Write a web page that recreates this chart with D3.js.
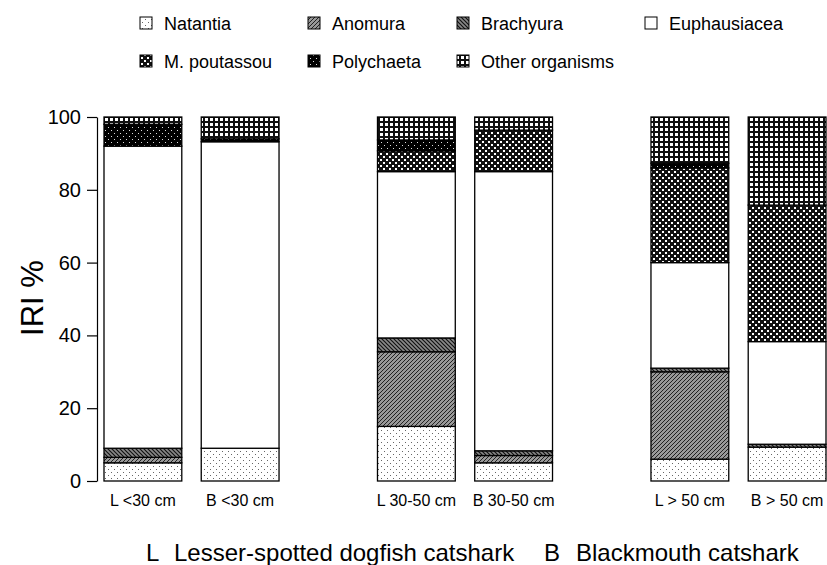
<!DOCTYPE html>
<html>
<head>
<meta charset="utf-8">
<script src="https://cdn.jsdelivr.net/npm/d3@7"></script>
<style>
  body { margin: 0; background: #fff; }
  text { font-family: "Liberation Sans", Arial, sans-serif; }
</style>
</head>
<body>
<div class="chart"></div>
<script>
// bar labels, grouped by length class
var groups = ["<30 cm", "30-50 cm", "> 50 cm"];
var species = ["L", "B"];
var barLabels = ["L <30 cm", "B <30 cm", "L 30-50 cm", "B 30-50 cm", "L > 50 cm", "B > 50 cm"];

// IRI % per prey category, one value per bar
var natantia     = [5, 9, 15, 5, 6, 9.3];
var anomura      = [1.5, 0, 20.5, 2, 24, 0];
var brachyura    = [2.5, 0, 3.8, 1.3, 1, 0.8];
var euphausiacea = [83, 84.2, 45.7, 76.7, 29, 28.2];
var poutassou    = [0, 0, 5.7, 11.4, 26, 37.5];
var polychaeta   = [6, 0.8, 3, 0, 1.3, 0];
var others       = [2, 6, 6.3, 3.6, 12.7, 24.2];

var preyNames = ["Natantia", "Anomura", "Brachyura", "Euphausiacea",
                 "M. poutassou", "Polychaeta", "Other organisms"];
var yTicks = [0, 20, 40, 60, 80, 100];

var svgWidth = 827, svgHeight = 565;
var margin = { top: 117, right: 1, bottom: 84, left: 104 };

var svg = d3.select(".chart").append("svg")
  .attr("width", svgWidth)
  .attr("height", svgHeight);

// patterns for the prey categories
var defs = svg.append("defs");
function pat(id, w, h) {
  return defs.append("pattern").attr("id", id)
    .attr("patternUnits", "userSpaceOnUse")
    .attr("width", w).attr("height", h);
}
var p;
p = pat("p-nat", 6, 6);
p.append("rect").attr("width", 6).attr("height", 6).attr("fill", "#fff");
p.append("rect").attr("x", 1).attr("y", 1).attr("width", 1).attr("height", 1).attr("fill", "#666");
p.append("rect").attr("x", 4).attr("y", 4).attr("width", 1).attr("height", 1).attr("fill", "#666");

p = pat("p-ano", 4, 4);
p.append("rect").attr("width", 4).attr("height", 4).attr("fill", "#999");
p.append("path").attr("d", "M0,4L4,0M-1,1L1,-1M3,5L5,3").attr("stroke", "#222").attr("stroke-width", 1);

p = pat("p-bra", 4, 4);
p.append("rect").attr("width", 4).attr("height", 4).attr("fill", "#888");
p.append("path").attr("d", "M0,0L4,4M-1,3L1,5M3,-1L5,1").attr("stroke", "#111").attr("stroke-width", 1.2);

p = pat("p-eup", 4, 4);
p.append("rect").attr("width", 4).attr("height", 4).attr("fill", "#fff");

p = pat("p-mp", 6, 6);
p.append("rect").attr("width", 6).attr("height", 6).attr("fill", "#111");
p.append("rect").attr("x", 0).attr("y", 0).attr("width", 2).attr("height", 2).attr("fill", "#fff");
p.append("rect").attr("x", 3).attr("y", 3).attr("width", 2).attr("height", 2).attr("fill", "#fff");

p = pat("p-pol", 6, 6);
p.append("rect").attr("width", 6).attr("height", 6).attr("fill", "#000");
p.append("rect").attr("x", 1).attr("y", 1).attr("width", 1).attr("height", 1).attr("fill", "#ddd");
p.append("rect").attr("x", 4).attr("y", 4).attr("width", 1).attr("height", 1).attr("fill", "#ddd");

p = pat("p-oth", 5, 5);
p.append("rect").attr("width", 5).attr("height", 5).attr("fill", "#111");
p.append("rect").attr("x", 1).attr("y", 1).attr("width", 3).attr("height", 3).attr("fill", "#fff");

var fills = ["url(#p-nat)", "url(#p-ano)", "url(#p-bra)", "url(#p-eup)",
             "url(#p-mp)", "url(#p-pol)", "url(#p-oth)"];
var series = [natantia, anomura, brachyura, euphausiacea, poutassou, polychaeta, others];

// table for d3.stack
var table = barLabels.map(function (lab, i) {
  var row = { label: lab, group: groups[Math.floor(i / 2)], sp: species[i % 2] };
  preyNames.forEach(function (n, k) { row[n] = series[k][i]; });
  return row;
});

var width = svgWidth - margin.left - margin.right;
var height = svgHeight - margin.top - margin.bottom;

var x0 = d3.scaleBand().domain(groups).range([0, width]).paddingInner(0.36);
var x1 = d3.scaleBand().domain(species).range([0, x0.bandwidth()]).paddingInner(0.2);
var y = d3.scaleLinear().domain([0, 100]).range([height, 0]);

var chartGroup = svg.append("g")
  .attr("transform", `translate(${margin.left}, ${margin.top})`);

var stacked = d3.stack().keys(preyNames)(table);

chartGroup.selectAll(".layer")
  .data(stacked)
  .enter()
  .append("g")
  .attr("class", "layer")
  .attr("fill", (d, i) => fills[i])
  .selectAll("rect")
  .data(d => d.filter(s => s[1] - s[0] > 0))
  .enter()
  .append("rect")
  .attr("x", d => x0(d.data.group) + x1(d.data.sp))
  .attr("width", x1.bandwidth())
  .attr("y", d => y(d[1]))
  .attr("height", d => y(d[0]) - y(d[1]))
  .attr("stroke", "#000")
  .attr("stroke-width", 1.3);

// y axis
var leftAxis = d3.axisLeft(y).tickValues(yTicks).tickSize(10).tickSizeOuter(0).tickPadding(6);
var yAxis = chartGroup.append("g")
  .attr("transform", "translate(-7,0)")
  .call(leftAxis);
yAxis.select(".domain").attr("stroke", "#000").attr("stroke-width", 1.2);
yAxis.selectAll(".tick line").attr("stroke", "#000").attr("stroke-width", 1.2);
yAxis.selectAll("text").attr("font-size", 20).attr("fill", "#000")
  .style("font-family", "'Liberation Sans', Arial, sans-serif");

chartGroup.append("text")
  .attr("text-anchor", "middle")
  .attr("transform", `translate(${-61}, ${height / 2 - 1}) rotate(-90)`)
  .attr("font-size", 31)
  .text("IRI %");

// bar labels
chartGroup.selectAll(".barlabel")
  .data(table)
  .enter()
  .append("text")
  .attr("class", "barlabel")
  .attr("x", d => x0(d.group) + x1(d.sp) + x1.bandwidth() / 2)
  .attr("y", height + 25)
  .attr("text-anchor", "middle")
  .attr("font-size", 16)
  .text(d => d.label);

// top legend
var legCols = [140, 308, 457, 645];
var legend = svg.append("g");
preyNames.forEach(function (n, k) {
  var col = k < 4 ? k : k - 4;
  var row = k < 4 ? 0 : 1;
  var lx = legCols[col], ly = 23 + row * 38;
  legend.append("rect")
    .attr("x", lx).attr("y", ly - 6)
    .attr("width", 12).attr("height", 12)
    .attr("fill", fills[k]).attr("stroke", "#000").attr("stroke-width", 1);
  legend.append("text")
    .attr("x", lx + 24).attr("y", ly + 7)
    .attr("font-size", 18)
    .text(n);
});

// bottom species key
var keyRow = svg.append("g").attr("font-size", 24);
keyRow.append("text").attr("x", 146).attr("y", 561).text("L");
keyRow.append("text").attr("x", 174).attr("y", 561).text("Lesser-spotted dogfish catshark");
keyRow.append("text").attr("x", 544).attr("y", 561).text("B");
keyRow.append("text").attr("x", 576).attr("y", 561).text("Blackmouth catshark");
</script>
</body>
</html>
